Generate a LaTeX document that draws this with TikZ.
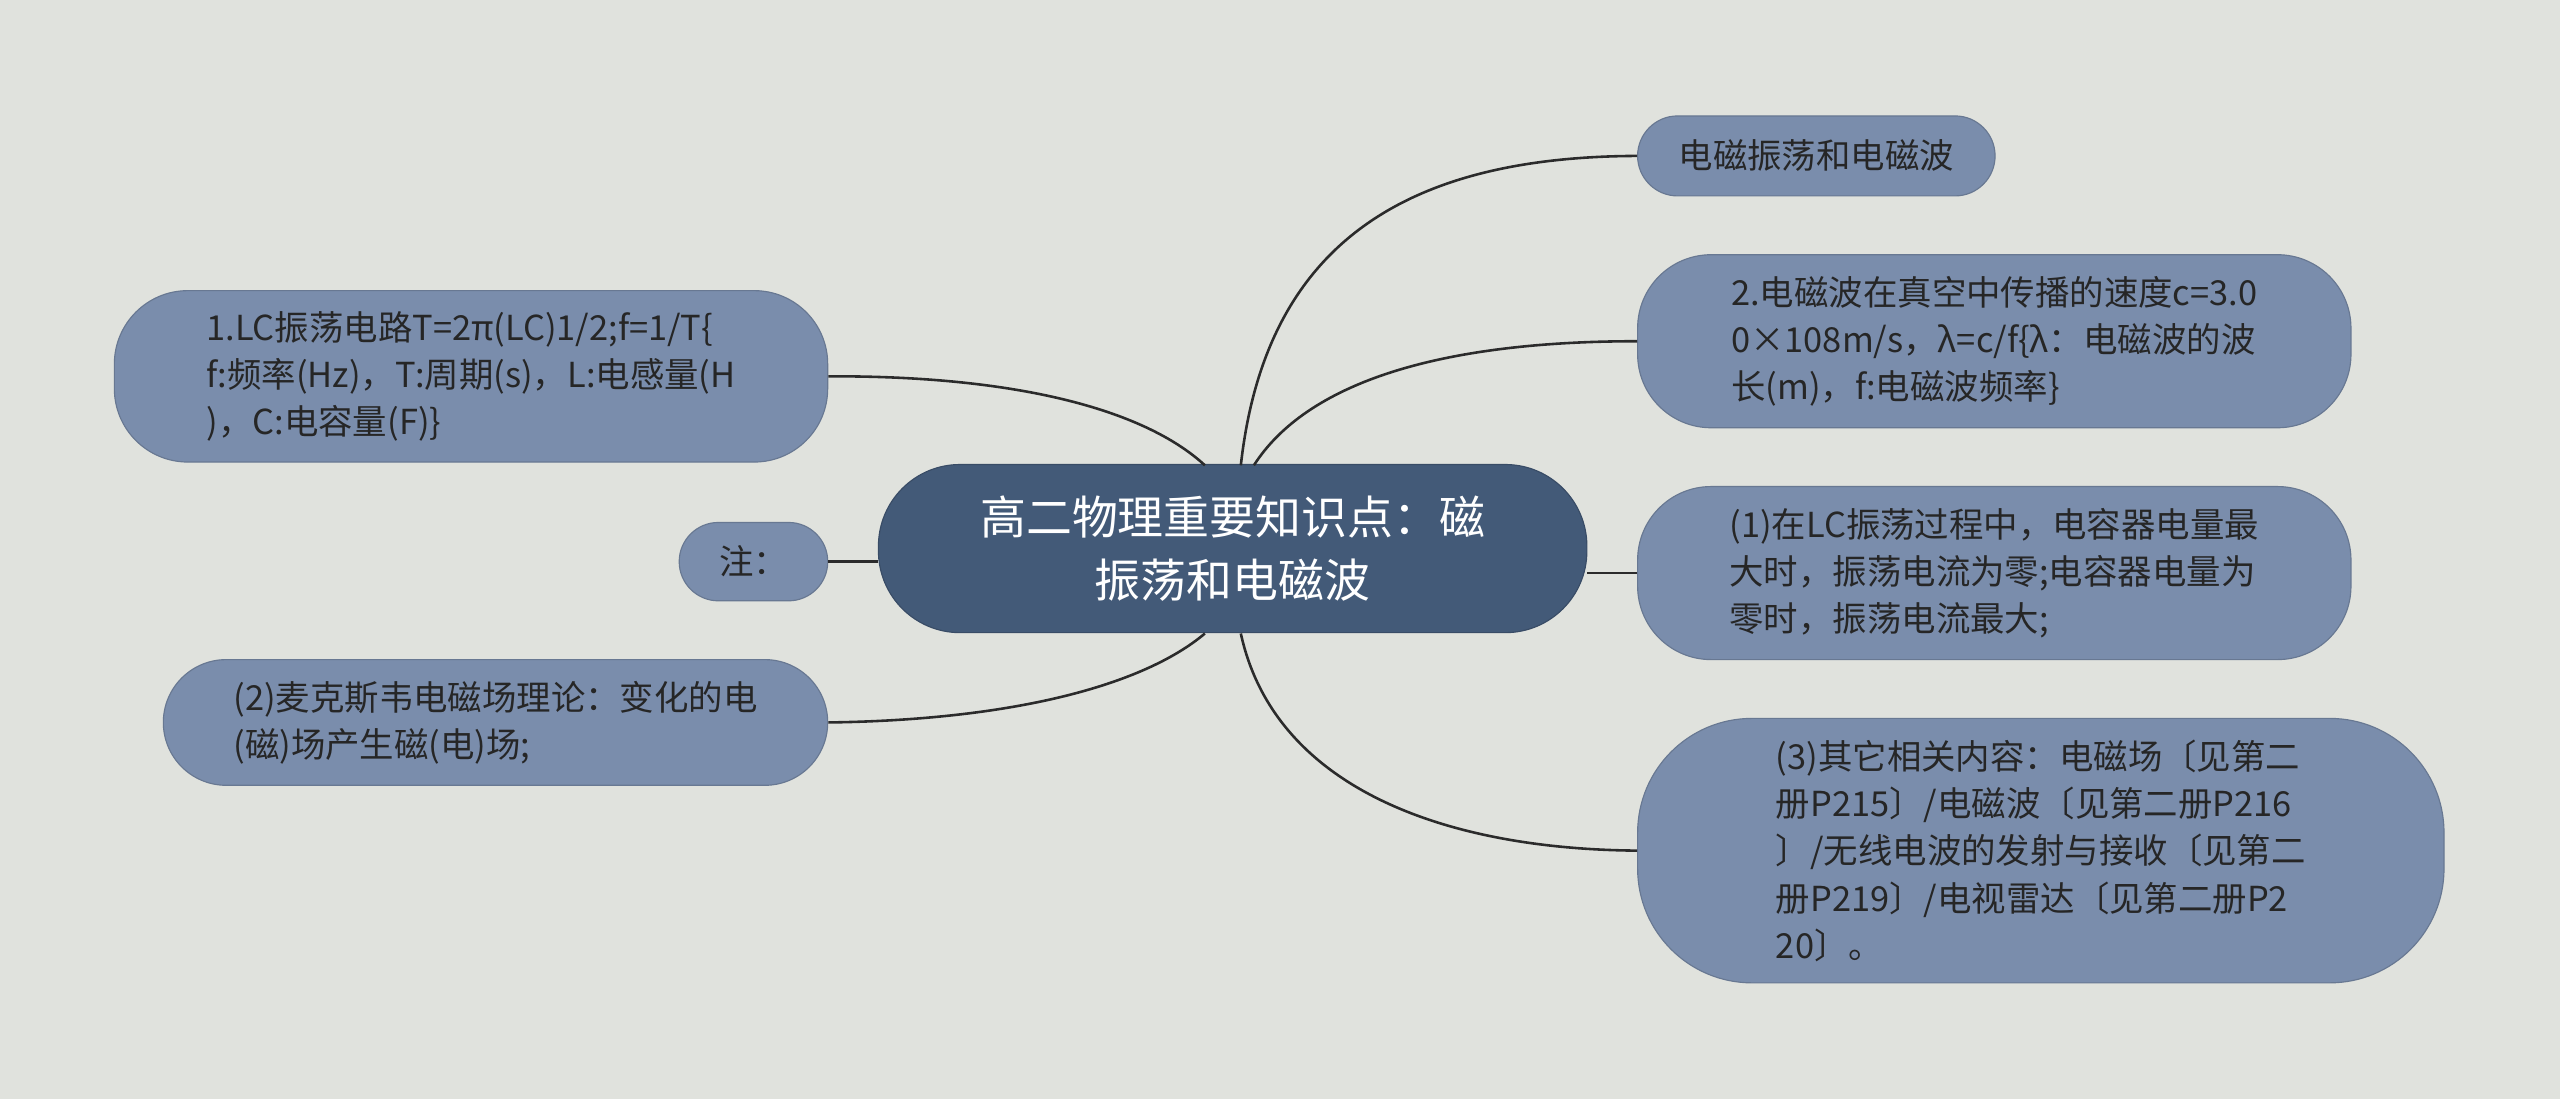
\documentclass[tikz,border=0pt]{standalone}
\usepackage{fontspec}
\setmainfont{Noto Sans CJK SC}
\definecolor{bgcol}{HTML}{E0E2DD}
\definecolor{rootcol}{HTML}{435A78}
\definecolor{leafcol}{HTML}{7A8DAC}
\definecolor{linecol}{HTML}{2B2B2B}
\tikzset{
  leaf/.style={draw=leafcol!85!black, fill=leafcol, rounded corners=0.9cm, text=black!85,
    align=left, font=\fontsize{12pt}{16.5pt}\selectfont, inner sep=0pt},
  root/.style={draw=rootcol!85!black, fill=rootcol, rounded corners=1cm, text=white,
    align=center, font=\fontsize{16pt}{22pt}\selectfont, inner sep=0pt},
  link/.style={draw=linecol, line width=0.9pt}
}
\begin{document}
\begin{tikzpicture}[x=0.02cm,y=-0.02cm]
    \fill[bgcol] (0,0) rectangle (1568,673);
    \useasboundingbox (0,0) rectangle (1568,673);

    % root
    \node[root, minimum width=8.68cm, minimum height=2.06cm] (root) at (755,336)
        {高二物理重要知识点：磁\\振荡和电磁波};

    % right side
    \node[leaf, minimum width=4.38cm, minimum height=0.98cm, rounded corners=0.49cm] (r1) at (1112.5,95.5)
        {电磁振荡和电磁波};
    \node[leaf, minimum width=8.74cm, minimum height=2.12cm] (r2) at (1221.5,209)
        {2.电磁波在真空中传播的速度c=3.0\\0×108m/s，λ=c/f\{λ：电磁波的波\\长(m)，f:电磁波频率\}};
    \node[leaf, minimum width=8.74cm, minimum height=2.12cm] (r3) at (1221.5,351)
        {(1)在LC振荡过程中，电容器电量最\\大时，振荡电流为零;电容器电量为\\零时，振荡电流最大;};
    \node[leaf, minimum width=9.88cm, minimum height=3.24cm, rounded corners=1.4cm] (r4) at (1250,521)
        {(3)其它相关内容：电磁场〔见第二\\册P215〕/电磁波〔见第二册P216\\〕/无线电波的发射与接收〔见第二\\册P219〕/电视雷达〔见第二册P2\\20〕。};

    % left side
    \node[leaf, minimum width=8.74cm, minimum height=2.1cm] (l1) at (288.5,230.5)
        {1.LC振荡电路T=2π(LC)1/2;f=1/T\{\\f:频率(Hz)，T:周期(s)，L:电感量(H\\)，C:电容量(F)\}};
    \node[leaf, minimum width=1.82cm, minimum height=0.96cm, rounded corners=0.48cm] (l2) at (461.5,344)
        {注：};
    \node[leaf, minimum width=8.14cm, minimum height=1.54cm, rounded corners=0.77cm] (l3) at (303.5,442.5)
        {(2)麦克斯韦电磁场理论：变化的电\\(磁)场产生磁(电)场;};

    \coordinate (tr) at (760,285);
    \coordinate (tl) at (738,285);
    \coordinate (br) at (760,388);
    \coordinate (bl) at (738,388);

    \draw[link] (tr) .. controls (775,150) and (860,96) .. (r1.west);
    \draw[link] (768,285) .. controls (800,235) and (880,209) .. (r2.west);
    \draw[link] (root.east |- 0,351) -- (r3.west);
    \draw[link] (br) .. controls (780,480) and (880,520) .. (r4.west);
    \draw[link] (tl) .. controls (700,250) and (620,230) .. (l1.east);
    \draw[link] (l2.east) -- (root.west |- l2.east);
    \draw[link] (bl) .. controls (700,420) and (620,441) .. (l3.east);
\end{tikzpicture}
\end{document}
